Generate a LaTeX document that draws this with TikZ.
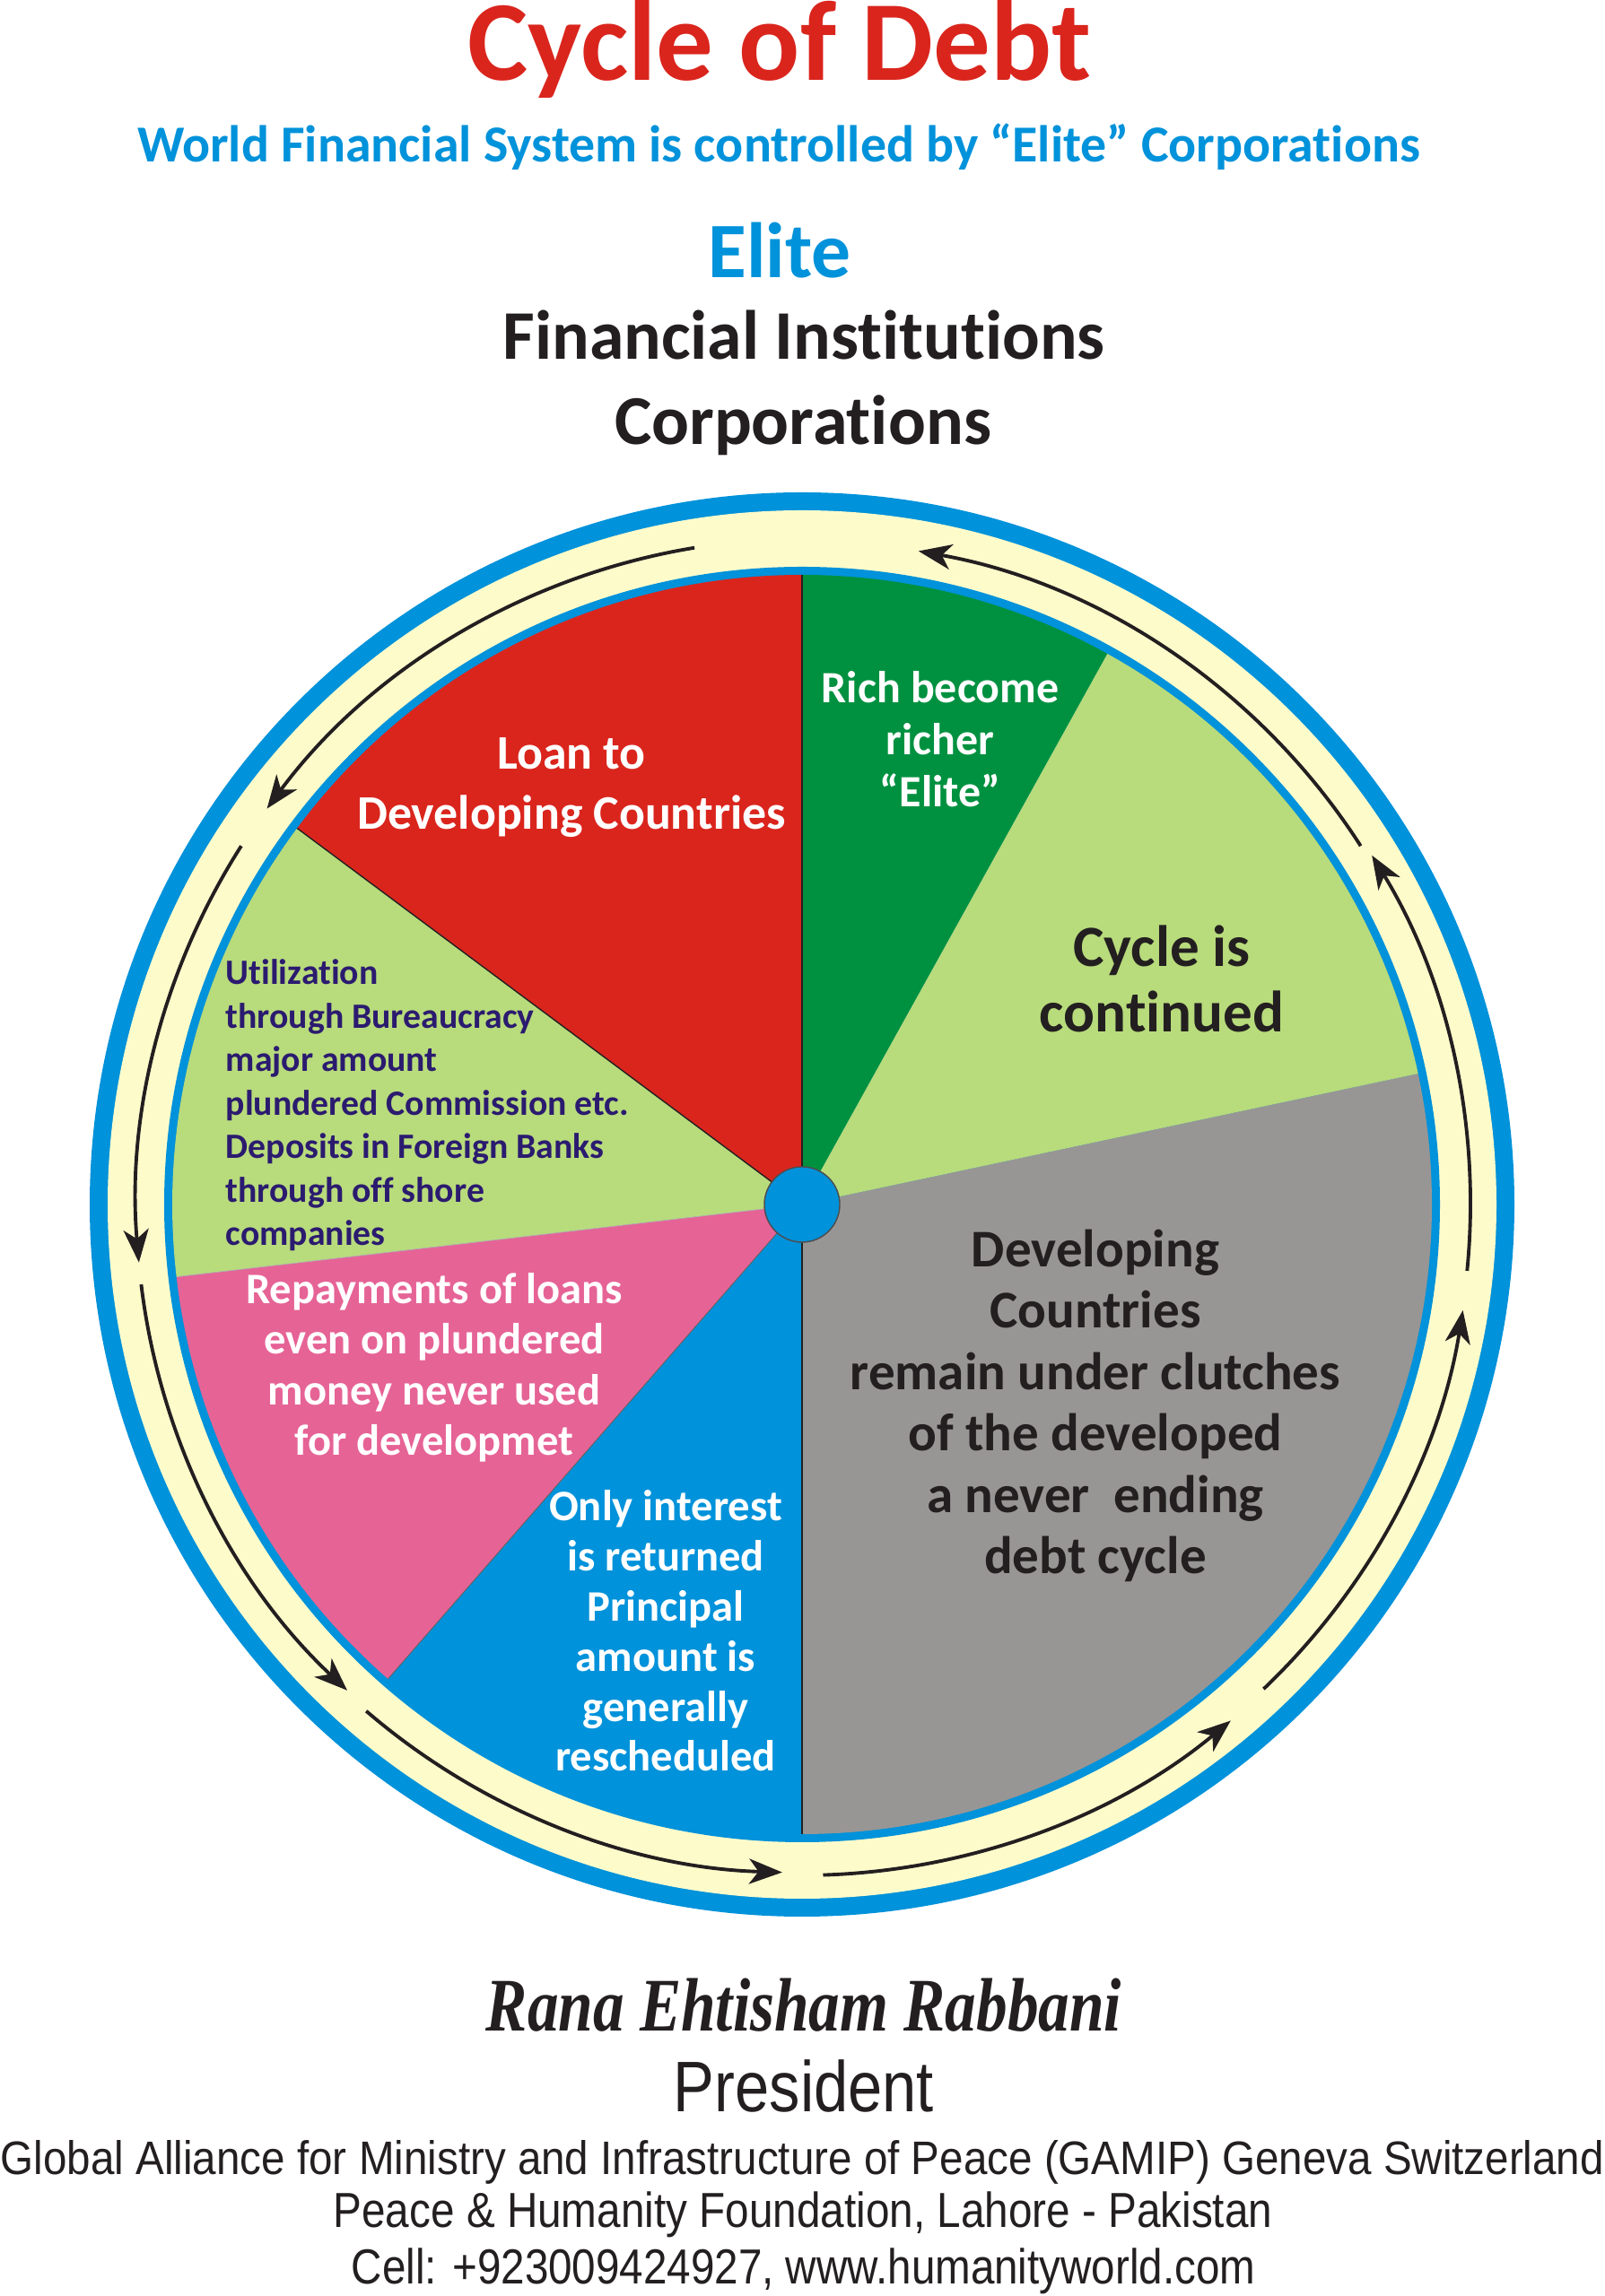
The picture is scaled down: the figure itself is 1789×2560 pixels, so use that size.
\documentclass[tikz,border=0pt]{standalone}
\usepackage{fontspec}
\usepackage{graphicx}
\setmainfont{Carlito}[Ligatures={TeX,NoCommon}]
\newfontfamily\footserif{Liberation Serif}
\newfontfamily\footsans{Liberation Sans}
\usetikzlibrary{arrows.meta}
\definecolor{tred}{HTML}{DA251D}
\definecolor{skyblue}{HTML}{0092DA}
\definecolor{ringyellow}{HTML}{FEFBCB}
\definecolor{sgreen}{HTML}{009140}
\definecolor{lgreen}{HTML}{B8DB7C}
\definecolor{spink}{HTML}{E66396}
\definecolor{sgray}{HTML}{979695}
\definecolor{darkink}{HTML}{231F20}
\definecolor{indigo}{HTML}{2B1B6F}
\newcommand\pieslice[3]{\fill[#3] (0,0) -- (#1:702) arc[start angle=#1,end angle=#2,radius=702] -- cycle;}
\begin{document}
\begin{tikzpicture}[x=0.01cm,y=0.01cm,
  cyc/.style={draw=darkink,line width=1.1pt,-{Stealth[length=10.5pt,width=8pt,inset=3pt]}},
  bigtxt/.style={anchor=base,inner sep=0,font=\bfseries\fontsize{#1}{#1}\selectfont},
  slicetxt/.style={anchor=base,inner sep=0,align=center},
  foot/.style={anchor=base,inner sep=0,text=darkink}]
\useasboundingbox (0,0) rectangle (1789,2560);
\fill[white] (0,0) rectangle (1789,2560);
% header
\node[bigtxt=36.1,text=tred] (title) at (869,2470) {Cycle of Debt};
\node[bigtxt=16.45,text=skyblue] (subtitle) at (868,2379) {World Financial System is controlled by “Elite” Corporations};
\node[bigtxt=24.9,text=skyblue] (elite) at (869,2250) {Elite};
\node[bigtxt=22.1,text=darkink] (finst) at (896,2159) {Financial Institutions};
\node[bigtxt=22.2,text=darkink] (corp) at (895,2064) {Corporations};
% wheel
\coordinate (C) at (894,1217);
\begin{scope}[shift={(894,1217)}]
  \fill[skyblue] (0,0) circle[radius=794];
  \fill[ringyellow] (0,0) circle[radius=774];
  \fill[skyblue] (0,0) circle[radius=711];
  \pieslice{61}{90}{sgreen}
  \pieslice{90}{143.3}{tred}
  \pieslice{143.3}{186.6}{lgreen}
  \pieslice{186.6}{228.9}{spink}
  \pieslice{228.9}{270}{skyblue}
  \pieslice{270}{372}{sgray}
  \pieslice{12}{61}{lgreen}
  \draw[darkink,line width=0.45pt] (0,0) -- (90:702);
  \draw[darkink,line width=0.6pt] (0,0) -- (270:702);
  \draw[darkink,line width=0.4pt] (0,0) -- (143.3:702);
  \draw[darkink!70,line width=0.25pt] (0,0) -- (228.9:702);
  \draw[darkink!35,line width=0.2pt] (0,0) -- (186.6:702);
  % cycle arrows
  \draw[cyc] (99.3:742) arc[start angle=99.3,end angle=143.5,radius=742];
  \draw[cyc] (147.4:742) arc[start angle=147.4,end angle=185,radius=742];
  \draw[cyc] (186.9:742) arc[start angle=186.9,end angle=226.9,radius=742];
  \draw[cyc] (229.3:745) arc[start angle=229.3,end angle=268.3,radius=745];
  \draw[cyc] (271.8:748) arc[start angle=271.8,end angle=309.7,radius=748];
  \draw[cyc] (313.6:746) arc[start angle=313.6,end angle=350.9,radius=746];
  \draw[cyc] (354.3:745) arc[start angle=354.3,end angle=391.5,radius=745];
  \draw[cyc] (32.7:740) arc[start angle=32.7,end angle=79.9,radius=740];
\end{scope}
\node[circle,fill=skyblue,draw=darkink!80,line width=0.4pt,minimum size=0.84cm,inner sep=0] (hub) at (C) {};
% slice texts (anchor = baseline of last line)
\node[slicetxt,text=white,font=\bfseries\fontsize{14.2}{16.5}\selectfont] (rich) at (1048,1660) {Rich become\\richer\\“Elite”};
\node[slicetxt,text=white,font=\bfseries\fontsize{15.3}{19.1}\selectfont] (loan) at (637,1635) {Loan to\\Developing Countries};
\node[anchor=base west,inner sep=0,align=left,text=indigo,font=\bfseries\fontsize{11.3}{13.8}\selectfont] (util) at (251,1171) {Utilization\\through Bureaucracy\\major amount\\plundered Commission etc.\\Deposits in Foreign Banks\\through off shore\\companies};
\node[slicetxt,text=darkink,font=\bfseries\fontsize{18.5}{20.9}\selectfont] (cont) at (1295,1409) {Cycle is\\continued};
\node[slicetxt,text=white,font=\bfseries\fontsize{13.8}{16.1}\selectfont] (repay) at (484,937) {Repayments of loans\\even on plundered\\money never used\\for developmet};
\node[slicetxt,text=white,font=\bfseries\fontsize{13.8}{15.9}\selectfont] (interest) at (742,585) {Only interest\\is returned\\Principal\\amount is\\generally\\rescheduled};
\node[slicetxt,text=darkink,font=\bfseries\fontsize{16.8}{19.5}\selectfont] (clutch) at (1221,805) {Developing\\Countries\\remain under clutches\\of the developed\\a never\ \ ending\\debt cycle};
% footer
\node[foot] (author) at (896,295) {\resizebox{7.08cm}{\height}{\footserif\bfseries\itshape\fontsize{24}{28}\selectfont Rana Ehtisham Rabbani}};
\node[foot] (pres) at (896,205) {\resizebox{2.90cm}{\height}{\footsans\fontsize{22.7}{26}\selectfont President}};
\node[foot] (gamip) at (894.5,136) {\resizebox{17.86cm}{\height}{\footsans\fontsize{14.9}{18}\selectfont Global Alliance for Ministry and Infrastructure of Peace (GAMIP) Geneva Switzerland}};
\node[foot] (phf) at (895,76) {\resizebox{10.46cm}{\height}{\footsans\fontsize{15.6}{18}\selectfont Peace \& Humanity Foundation, Lahore - Pakistan}};
\node[foot] (cell) at (895.5,14) {\resizebox{10.07cm}{\height}{\footsans\fontsize{15.6}{18}\selectfont Cell: +923009424927, www.humanityworld.com}};
\end{tikzpicture}
\end{document}
